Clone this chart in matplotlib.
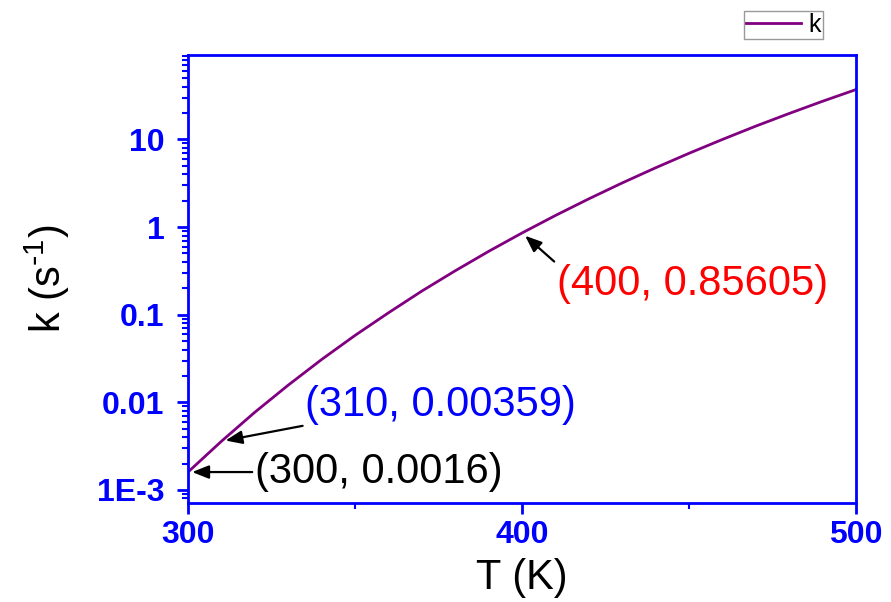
import matplotlib
matplotlib.use("Agg")
import matplotlib.pyplot as plt
from matplotlib.ticker import FixedLocator, LogLocator, NullFormatter, FixedFormatter

plt.rcParams['font.family'] = ['Liberation Sans', 'DejaVu Sans']
plt.rcParams['mathtext.default'] = 'regular'

# Rate constant k (s^-1) versus temperature T (K)
temperature = [300, 310, 320, 330, 340, 350, 360, 370, 380, 390, 400,
               410, 420, 430, 440, 450, 460, 470, 480, 490, 500]
rate_k = [0.0016, 0.00359, 0.0077, 0.0157, 0.0308, 0.058, 0.105, 0.186,
          0.317, 0.528, 0.85605, 1.356, 2.10, 3.19, 4.75, 6.95, 10.0,
          14.2, 19.8, 27.3, 37.1]

# Labelled points: (T, k, text, colour)
callouts = [
    (300, 0.0016, "(300, 0.0016)", "black"),
    (310, 0.00359, "(310, 0.00359)", "blue"),
    (400, 0.85605, "(400, 0.85605)", "red"),
]

x_ticks = [300, 400, 500]
x_minor = [350, 450]
y_ticks = [1e-3, 1e-2, 1e-1, 1, 10]
y_tick_labels = ["1E-3", "0.01", "0.1", "1", "10"]

fig = plt.figure(figsize=(8.91, 6.02), dpi=100)
ax = fig.add_axes([0.211, 0.1645, 0.7497, 0.7441])

line, = ax.plot(temperature, rate_k, color="#800080", lw=2, label="k")

ax.set_yscale("log")
ax.set_xlim(300, 500)
ax.set_ylim(7.1e-4, 92)

axis_blue = "#0000FF"
for sp in ax.spines.values():
    sp.set_color(axis_blue)
    sp.set_linewidth(2)

ax.xaxis.set_major_locator(FixedLocator(x_ticks))
ax.xaxis.set_minor_locator(FixedLocator(x_minor))
ax.set_xticklabels([str(t) for t in x_ticks])
ax.yaxis.set_major_locator(FixedLocator(y_ticks))
ax.yaxis.set_major_formatter(FixedFormatter(y_tick_labels))
ax.yaxis.set_minor_locator(LogLocator(base=10, subs=range(2, 10), numticks=20))
ax.yaxis.set_minor_formatter(NullFormatter())

ax.tick_params(which="major", direction="out", length=8, width=2,
               color=axis_blue, labelcolor=axis_blue, labelsize=23)
ax.tick_params(which="minor", direction="out", length=4, width=1.5,
               color=axis_blue)
ax.tick_params(axis="y", which="major", pad=9)
ax.tick_params(axis="x", which="major", pad=4)
for lab in ax.get_xticklabels() + ax.get_yticklabels():
    lab.set_fontweight("bold")

ax.set_xlabel("T (K)", fontsize=30, labelpad=6)
ax.set_ylabel(r"k (s$^{\text{-}1}$)", fontsize=30, labelpad=18)

offsets = {300: (67, 0, (0, 0.5)), 310: (84, 36, (0, 0.0)), 400: (35, -51, (0, 1.0))}
for t, k, text, col in callouts:
    dx, dy, rel = offsets[t]
    ax.annotate(text, xy=(t, k), xytext=(dx, dy), textcoords="offset pixels",
                ha="left", va="center", fontsize=30, color=col,
                arrowprops=dict(arrowstyle="-|>,head_length=0.5,head_width=0.2",
                                color="black", lw=1.6, shrinkA=0, shrinkB=3,
                                relpos=rel, mutation_scale=20))

leg = fig.legend(handles=[line], loc="upper right",
                 bbox_to_anchor=(823 / 891, 1 - 11 / 602),
                 fontsize=18, frameon=True, fancybox=False,
                 handlelength=2.2, borderpad=0.08, handletextpad=0.3,
                 borderaxespad=0)
leg.get_frame().set_edgecolor("#808080")
leg.get_frame().set_linewidth(1)

fig.savefig("out.png", dpi=100)
